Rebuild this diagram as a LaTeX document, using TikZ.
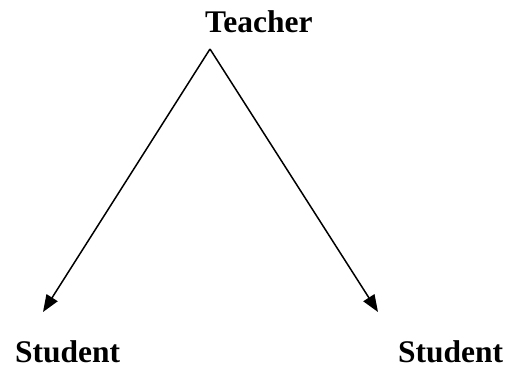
\documentclass[tikz,border=0pt]{standalone}
\usepackage{fontspec}
\setmainfont{Liberation Serif}
\usetikzlibrary{arrows.meta}

\begin{document}
\begin{tikzpicture}[
    x=1pt, y=-1pt,
    lbl/.style={inner sep=0pt, text depth=0pt, anchor=base west, font=\fontsize{31.5}{37}\selectfont\bfseries},
    arr/.style={line width=1.5pt, -{Triangle[length=17pt,width=13pt]}}
]
    \useasboundingbox (0,0) rectangle (509,368);
    \node[lbl] (teacher) at (205,32) {Teacher};
    \node[lbl] (left) at (15,362) {Student};
    \node[lbl] (right) at (398,362) {Student};

    \coordinate (apex) at (210,49);
    \coordinate (ltip) at (43,312);
    \coordinate (rtip) at (378,312);
    \draw[arr] (apex) -- (ltip);
    \draw[arr] (apex) -- (rtip);
\end{tikzpicture}
\end{document}
